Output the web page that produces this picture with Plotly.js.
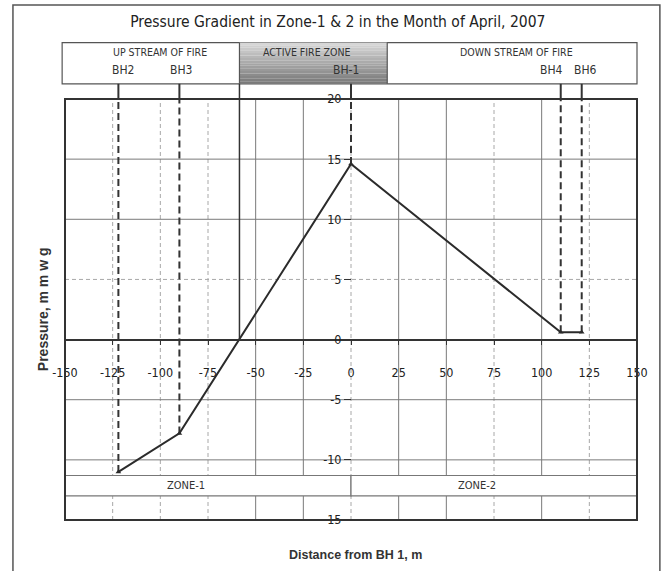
<!DOCTYPE html>
<html>
<head>
<meta charset="utf-8">
<script src="https://cdn.plot.ly/plotly-3.0.1.min.js"></script>
<style>
html,body{margin:0;padding:0;background:#fff;}
#chart{width:665px;height:571px;}
</style>
</head>
<body>
<div id="chart"></div>
<script>
// ---- data ----
const boreholes = ['BH2', 'BH3', 'BH-1', 'BH4', 'BH6'];
const distance = [-122, -90, 0, 110, 121];       // m from BH 1
const pressure = [-11.0, -7.8, 14.6, 0.6, 0.6];   // mm wg
const xTicks = [-150, -125, -100, -75, -50, -25, 0, 25, 50, 75, 100, 125, 150];
const yTicks = [-15, -10, -5, 0, 5, 10, 15, 20];
const streamLabels = ['UP STREAM OF FIRE', 'ACTIVE FIRE ZONE', 'DOWN STREAM OF FIRE'];
const streamBounds = [-150, -58.5, 19, 150];
const zoneLabels = ['ZONE-1', 'ZONE-2'];
const zoneBounds = [-150, 0, 150];
const zoneBand = [-13.0, -11.3];
const gridSolidX = [-50, -25, 25, 50, 100];
const gridDashX = [-125, -100, -75, 0, 75, 125];
const gridSolidY = [-10, -5, 10, 15];
const gridDashY = [5];

const narrow = "'Liberation Sans Narrow', 'Arial Narrow', 'DejaVu Sans Condensed', sans-serif";
const sans = "'Liberation Sans', Arial, sans-serif";
const ink = '#333333';

const shapes = [];
// gridlines
gridSolidX.forEach(v => shapes.push({type:'line', layer:'below', xref:'x', yref:'paper', x0:v, x1:v, y0:0, y1:1, line:{color:'#7a7a7a', width:1}}));
gridDashX.forEach(v => shapes.push({type:'line', layer:'below', xref:'x', yref:'paper', x0:v, x1:v, y0:0, y1:1, line:{color:'#a8a8a8', width:1, dash:'4px,3px'}}));
gridSolidY.forEach(v => shapes.push({type:'line', layer:'below', xref:'paper', yref:'y', x0:0, x1:1, y0:v, y1:v, line:{color:'#7a7a7a', width:1}}));
gridDashY.forEach(v => shapes.push({type:'line', layer:'below', xref:'paper', yref:'y', x0:0, x1:1, y0:v, y1:v, line:{color:'#a8a8a8', width:1, dash:'4px,3px'}}));
// zone band
for (let i = 0; i < zoneLabels.length; i++) {
  shapes.push({type:'rect', layer:'below', xref:'x', yref:'y', x0:zoneBounds[i], x1:zoneBounds[i+1], y0:zoneBand[0], y1:zoneBand[1], fillcolor:'#ffffff', line:{color:'#777', width:1.2}});
}
// header box
const hTop = 1.134, hBot = 1.036;
shapes.push({type:'rect', xref:'paper', yref:'paper', x0:-0.005, x1:1, y0:hBot, y1:hTop, fillcolor:'#ffffff', line:{color:'#555', width:1.2}});
// active zone gradient
const nStrips = 16;
for (let k = 0; k < nStrips; k++) {
  const t = k / (nStrips - 1);
  const g = Math.round(214 - t * 92);
  shapes.push({type:'rect', xref:'x', yref:'paper', x0:streamBounds[1], x1:streamBounds[2],
    y1: hTop - (hTop - hBot) * k / nStrips, y0: hTop - (hTop - hBot) * (k + 1) / nStrips,
    fillcolor:`rgb(${g},${g},${g})`, line:{width:0}});
}
shapes.push({type:'line', xref:'x', yref:'paper', x0:streamBounds[1], x1:streamBounds[1], y0:hBot, y1:hTop, line:{color:'#555', width:1.2}});
shapes.push({type:'line', xref:'x', yref:'paper', x0:streamBounds[2], x1:streamBounds[2], y0:hBot, y1:hTop, line:{color:'#555', width:1.2}});
// active zone boundary down to zero
shapes.push({type:'line', xref:'x', yref:'paper', x0:streamBounds[1], x1:streamBounds[1], y0:1, y1:hBot, line:{color:ink, width:1.5}});
shapes.push({type:'line', layer:'below', xref:'x', yref:'y', x0:streamBounds[1], x1:streamBounds[1], y0:0, y1:20, line:{color:ink, width:1.5}});
// borehole lines
for (let i = 0; i < boreholes.length; i++) {
  shapes.push({type:'line', xref:'x', yref:'paper', x0:distance[i], x1:distance[i], y0:1, y1:hBot, line:{color:ink, width:2}});
  shapes.push({type:'line', layer:'below', xref:'x', yref:'y', x0:distance[i], x1:distance[i], y0:pressure[i], y1:20, line:{color:ink, width:2, dash:'7px,4px'}});
}
// plot frame
shapes.push({type:'rect', layer:'above', xref:'paper', yref:'paper', x0:0, x1:1, y0:0, y1:1, line:{color:ink, width:2}});
// outer frame
shapes.push({type:'rect', xref:'paper', yref:'paper', x0:-0.091, x1:1.040, y0:-0.13, y1:1.223, line:{color:'#555', width:1.5}});

const annotations = [];
annotations.push({text:'Pressure, m m w g', xref:'paper', yref:'paper', x:-0.039, y:0.5, xanchor:'center', yanchor:'middle', textangle:-90, showarrow:false, font:{family:sans, size:14, color:ink, weight:'bold'}});
annotations.push({text:'Distance from BH 1, m', xref:'paper', yref:'paper', x:0.508, y:-0.083, xanchor:'center', yanchor:'middle', showarrow:false, font:{family:sans, size:12.5, color:ink, weight:'bold'}});
const streamShift = [8, -6, 4];
for (let i = 0; i < streamLabels.length; i++) {
  annotations.push({text:streamLabels[i], xref:'x', yref:'paper', x:(streamBounds[i] + streamBounds[i+1]) / 2, xshift:streamShift[i], y:1.111, xanchor:'center', yanchor:'middle', showarrow:false, font:{family:narrow, size:10.5, color:ink}});
}
const bhShift = [5, 2, -5, -9, 4];
for (let i = 0; i < boreholes.length; i++) {
  annotations.push({text:boreholes[i], xref:'x', yref:'paper', x:distance[i], xshift:bhShift[i], y:1.068, xanchor:'center', yanchor:'middle', showarrow:false, font:{family:narrow, size:12, color:ink}});
}
const zoneShift = [-22, -17];
for (let i = 0; i < zoneLabels.length; i++) {
  annotations.push({text:zoneLabels[i], xref:'x', yref:'y', x:(zoneBounds[i] + zoneBounds[i+1]) / 2, xshift:zoneShift[i], y:(zoneBand[0] + zoneBand[1]) / 2, xanchor:'center', yanchor:'middle', showarrow:false, font:{family:narrow, size:11, color:ink}});
}

const trace = {
  x: distance, y: pressure, type:'scatter', mode:'lines+markers',
  line:{color:'#2b2b2b', width:2},
  marker:{symbol:'triangle-up', size:5, color:'#2b2b2b'},
  hoverinfo:'x+y'
};

const layout = {
  width:665, height:571,
  margin:{l:65, r:28, t:99, b:51},
  paper_bgcolor:'#ffffff', plot_bgcolor:'#ffffff',
  showlegend:false,
  title:{text:'Pressure Gradient in Zone-1 & 2 in the Month of April, 2007', x:0.508, xanchor:'center', y:0.962, yanchor:'middle', font:{family:narrow, size:15.5, color:'#222'}},
  xaxis:{range:[-150,150], tickvals:xTicks, ticktext:xTicks.map(String), anchor:'free', position:15/35,
    showline:true, linecolor:ink, linewidth:2, showgrid:false, zeroline:false,
    ticks:'outside', ticklen:4, tickcolor:ink, ticklabelstandoff:17,
    tickfont:{family:narrow, size:12.5, color:'#222'}},
  yaxis:{range:[-15,20], tickvals:yTicks, ticktext:yTicks.map(String), anchor:'free', position:0.5,
    showline:false, showgrid:false, zeroline:false,
    ticks:'outside', ticklen:7, tickcolor:ink, ticklabelstandoff:0,
    tickfont:{family:narrow, size:12.5, color:'#222'}},
  shapes: shapes,
  annotations: annotations
};

Plotly.newPlot('chart', [trace], layout, {displayModeBar:false, staticPlot:true});
</script>
</body>
</html>
